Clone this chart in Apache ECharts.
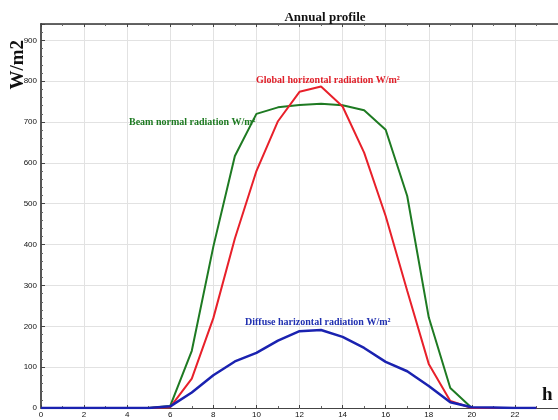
<!DOCTYPE html>
<html>
<head>
<meta charset="utf-8">
<script src="https://cdn.jsdelivr.net/npm/echarts@6/dist/echarts.min.js"></script>
<style>
html, body { margin: 0; padding: 0; background: #fff; }
#main { width: 558px; height: 420px; }
</style>
</head>
<body>
<div id="main"></div>
<script>
var hours = [0,1,2,3,4,5,6,7,8,9,10,11,12,13,14,15,16,17,18,19,20,21,22,23];
// W/m2 per hour
var beamNormal = [0,0,0,0,0,0,5,140,395,617,720,736,742,745,741,729,681,519,222,49,0,0,0,0];
var globalHoriz = [0,0,0,0,0,0,2,72,220,415,580,702,774,787,738,625,470,287,108,17,0,0,0,0];
var diffuseHoriz = [0,0,0,0,0,0,4,38,80,114,135,165,188,191,174,147,113,90,54,14,2,1,0,0];
var xTicks = [0,2,4,6,8,10,12,14,16,18,20,22];

function pairs(vals) {
    return hours.map(function (h, i) { return [h, vals[i]]; });
}

var serif = '"Liberation Serif", "DejaVu Serif", serif';
var myChart = echarts.init(document.getElementById('main'));

myChart.setOption({
    animation: false,
    title: {
        text: 'Annual profile',
        left: 320, top: 6, textAlign: 'center',
        textStyle: { fontFamily: serif, fontWeight: 'bold', fontSize: 13, color: '#111' }
    },
    grid: { left: 41, right: -4, top: 24, bottom: 12 },
    xAxis: [{
        type: 'value', min: 0, max: 24, interval: 2,
        axisLine: { show: true, lineStyle: { color: '#444', width: 1 } },
        axisTick: { show: true, inside: true, length: 3, lineStyle: { color: '#444' } },
        minorTick: { show: true, splitNumber: 2, length: 2, lineStyle: { color: '#666' } },
        axisLabel: {
            fontSize: 8, color: '#111', margin: 3, showMaxLabel: false,
            formatter: function (v) { return xTicks.indexOf(v) >= 0 ? v : ''; }
        },
        splitLine: { show: true, lineStyle: { color: '#e2e2e2' } }
    }, {
        type: 'value', position: 'top', min: 0, max: 24, interval: 2,
        axisLine: { show: true, onZero: false, lineStyle: { color: '#333', width: 1.5 } },
        axisTick: { show: true, inside: true, length: 3, lineStyle: { color: '#444' } },
        minorTick: { show: true, splitNumber: 2, length: 2, lineStyle: { color: '#666' } },
        axisLabel: { show: false },
        splitLine: { show: false }
    }],
    yAxis: {
        type: 'value', min: 0, max: 940, interval: 100,
        axisLine: { show: true, lineStyle: { color: '#555', width: 2 } },
        axisTick: { show: true, inside: true, length: 4, lineStyle: { color: '#444' } },
        minorTick: { show: true, splitNumber: 5, length: 2, lineStyle: { color: '#666' } },
        axisLabel: { fontSize: 8, color: '#111', margin: 4, showMaxLabel: false },
        splitLine: { show: true, lineStyle: { color: '#e2e2e2' } }
    },
    graphic: [
        { type: 'text', z: 100, left: 9, top: 40, rotation: Math.PI / 2,
          style: { text: 'W/m2', font: 'bold 19px ' + serif, fill: '#111' } },
        { type: 'text', z: 100, left: 542, top: 386,
          style: { text: 'h', font: 'bold 19px ' + serif, fill: '#111' } },
        { type: 'text', z: 100, left: 129, top: 117,
          style: { text: 'Beam normal radiation W/m\u00b2', font: 'bold 10px ' + serif, fill: '#1e7a22' } },
        { type: 'text', z: 100, left: 256, top: 75,
          style: { text: 'Global horizontal radiation W/m\u00b2', font: 'bold 10px ' + serif, fill: '#e0202a' } },
        { type: 'text', z: 100, left: 245, top: 317,
          style: { text: 'Diffuse harizontal radiation W/m\u00b2', font: 'bold 10px ' + serif, fill: '#2030b0' } }
    ],
    series: [{
        name: 'Beam normal', type: 'line', data: pairs(beamNormal),
        symbol: 'none', lineStyle: { color: '#1e7a22', width: 2 }
    }, {
        name: 'Global horizontal', type: 'line', data: pairs(globalHoriz),
        symbol: 'none', lineStyle: { color: '#e8202a', width: 2 }
    }, {
        name: 'Diffuse horizontal', type: 'line', data: pairs(diffuseHoriz),
        symbol: 'none', lineStyle: { color: '#1a22b0', width: 2.5 }
    }]
});
</script>
</body>
</html>
